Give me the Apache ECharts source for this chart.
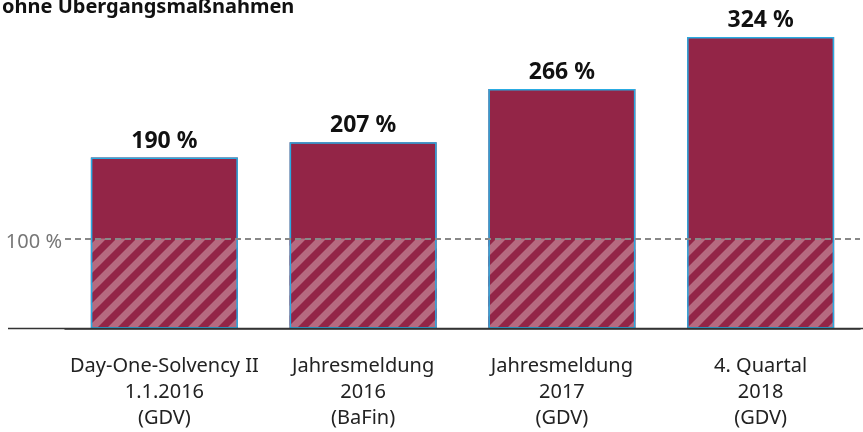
<!DOCTYPE html>
<html>
<head>
<meta charset="utf-8">
<script src="https://cdn.jsdelivr.net/npm/echarts@6/dist/echarts.min.js"></script>
<style>
  html, body { margin: 0; padding: 0; background: #fff; }
  #chart { width: 863px; height: 432px; }
</style>
</head>
<body>
<div id="chart"></div>
<script>
const titleText = 'ohne Übergangsmaßnahmen'
const categories = [
  'Day-One-Solvency II\n1.1.2016\n(GDV)',
  'Jahresmeldung\n2016\n(BaFin)',
  'Jahresmeldung\n2017\n(GDV)',
  '4. Quartal\n2018\n(GDV)'
]
const ratios = [190, 207, 266, 324]
const threshold = 100

const maroon = '#932547'
const stripe = '#b66a80'
const edge = '#29abe2'
const font = 'Noto Sans'

// schraffur fuer den teil unter 100 %
function hatchPattern() {
  const s = 20
  const c = document.createElement('canvas')
  c.width = s
  c.height = s
  const ctx = c.getContext('2d')
  ctx.fillStyle = maroon
  ctx.fillRect(0, 0, s, s)
  ctx.strokeStyle = stripe
  ctx.lineWidth = 7
  ctx.beginPath()
  ctx.moveTo(-4, 4); ctx.lineTo(4, -4)
  ctx.moveTo(0, s); ctx.lineTo(s, 0)
  ctx.moveTo(s - 4, s + 4); ctx.lineTo(s + 4, s - 4)
  ctx.stroke()
  return c
}

const chart = echarts.init(document.getElementById('chart'))

const option = {
  animation: false,
  textStyle: { fontFamily: font },
  title: {
    text: titleText,
    left: 2,
    top: -3,
    padding: 0,
    textStyle: { fontFamily: font, fontSize: 20, fontWeight: 'bold', color: '#111' }
  },
  grid: { left: 65, right: 3, top: 4.5, bottom: 103.5 },
  xAxis: {
    type: 'category',
    data: categories,
    axisLine: { lineStyle: { color: '#333', width: 1.5 } },
    axisTick: { alignWithLabel: true, length: 13, lineStyle: { color: '#555', width: 1.5 } },
    axisLabel: {
      interval: 0,
      margin: 25,
      fontFamily: font,
      fontSize: 20,
      lineHeight: 26,
      color: '#222'
    }
  },
  yAxis: {
    type: 'value',
    min: 0,
    max: 360,
    show: false
  },
  series: [
    {
      name: 'gesamt',
      type: 'bar',
      data: ratios,
      barWidth: 147,
      barGap: '-100%',
      itemStyle: { color: maroon }
    },
    {
      name: 'bis 100',
      type: 'bar',
      data: ratios.map(v => Math.min(v, threshold)),
      barWidth: 147,
      barGap: '-100%',
      itemStyle: { color: { image: hatchPattern(), repeat: 'repeat' } },
      markLine: {
        silent: true,
        symbol: 'none',
        lineStyle: { color: '#888', type: [6, 4], width: 2 },
        label: {
          position: 'start',
          distance: 3,
          offset: [0, 4],
          formatter: '100 %',
          fontFamily: font,
          fontSize: 20,
          color: '#777'
        },
        data: [{ yAxis: threshold }]
      }
    },
    {
      name: 'rahmen',
      type: 'bar',
      data: ratios,
      barWidth: 147,
      barGap: '-100%',
      itemStyle: { color: 'transparent', borderColor: edge, borderWidth: 1.5 },
      label: {
        show: true,
        position: 'top',
        distance: 5,
        formatter: p => p.value + ' %',
        fontFamily: font,
        fontSize: 23,
        fontWeight: 'bold',
        color: '#111'
      }
    }
  ]
}

chart.setOption(option)

// grundlinie ueber die ganze breite
const baseY = chart.convertToPixel({ yAxisIndex: 0 }, 0)
chart.setOption({
  graphic: [{
    type: 'line',
    shape: { x1: 8, y1: baseY, x2: 863, y2: baseY },
    style: { stroke: '#333', lineWidth: 1.5 },
    z: 10
  }]
})
</script>
</body>
</html>
